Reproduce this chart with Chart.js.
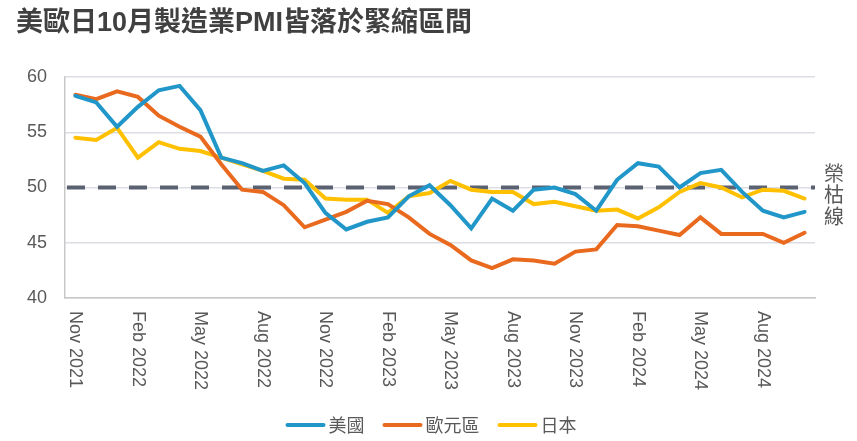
<!DOCTYPE html>
<html>
<head>
<meta charset="utf-8">
<script src="https://cdn.jsdelivr.net/npm/chart.js@4.4.1/dist/chart.umd.min.js"></script>
<style>
html, body { margin: 0; padding: 0; background: #fff; }
#wrap { width: 857px; height: 441px; }
</style>
</head>
<body>
<div id="wrap"><canvas id="pmiChart" width="857" height="441"></canvas></div>
<script>
const months = [
"Nov 2021", "Dec 2021", "Jan 2022", "Feb 2022", "Mar 2022", "Apr 2022", "May 2022", "Jun 2022", "Jul 2022",
"Aug 2022", "Sep 2022", "Oct 2022", "Nov 2022", "Dec 2022", "Jan 2023", "Feb 2023", "Mar 2023", "Apr 2023",
"May 2023", "Jun 2023", "Jul 2023", "Aug 2023", "Sep 2023", "Oct 2023", "Nov 2023", "Dec 2023", "Jan 2024",
"Feb 2024", "Mar 2024", "Apr 2024", "May 2024", "Jun 2024", "Jul 2024", "Aug 2024", "Sep 2024", "Oct 2024"
];
const usPmi = [58.3, 57.7, 55.5, 57.3, 58.8, 59.2, 57.0, 52.7, 52.2, 51.5, 52.0, 50.4, 47.7, 46.2, 46.9, 47.3, 49.2, 50.2,
48.4, 46.3, 49.0, 47.9, 49.8, 50.0, 49.4, 47.9, 50.7, 52.2, 51.9, 50.0, 51.3, 51.6, 49.6, 47.9, 47.3, 47.8];
const euPmi = [58.4, 58.0, 58.7, 58.2, 56.5, 55.5, 54.6, 52.1, 49.8, 49.6, 48.4, 46.4, 47.1, 47.8, 48.8, 48.5, 47.3, 45.8,
44.8, 43.4, 42.7, 43.5, 43.4, 43.1, 44.2, 44.4, 46.6, 46.5, 46.1, 45.7, 47.3, 45.8, 45.8, 45.8, 45.0, 45.9];
const jpPmi = [54.5, 54.3, 55.4, 52.7, 54.1, 53.5, 53.3, 52.7, 52.1, 51.5, 50.8, 50.7, 49.0, 48.9, 48.9, 47.7, 49.2, 49.5,
50.6, 49.8, 49.6, 49.6, 48.5, 48.7, 48.3, 47.9, 48.0, 47.2, 48.2, 49.6, 50.4, 50.0, 49.1, 49.8, 49.7, 49.0];
const seriesNames = ["美國", "歐元區", "日本"];
const seriesColors = ["#2196c8", "#e96a1e", "#ffc000"];
const boomLine = 50;
const boomLabel = "榮枯線";
const chartTitle = "美歐日10月製造業PMI皆落於緊縮區間";

const latin = "'Liberation Sans', Arial, 'Noto Sans CJK TC', sans-serif";
const cjk = "'Noto Sans CJK TC', 'Liberation Sans', sans-serif";
const grey = "#595959";

// dashed 50 line, vertical label, rotated month labels, legend and title
const extras = {
id: "extras",
beforeDatasetsDraw(chart) {
const { ctx, chartArea, scales: { y } } = chart;
const yy = y.getPixelForValue(boomLine);
ctx.save();
ctx.strokeStyle = "#5a6170";
ctx.lineWidth = 4;
ctx.setLineDash([18, 13]);
ctx.beginPath();
ctx.moveTo(chartArea.left + 2, yy);
ctx.lineTo(chartArea.right, yy);
ctx.stroke();
ctx.restore();
},
afterDraw(chart) {
const { ctx, scales: { x } } = chart;
ctx.save();
// vertical boom/bust label
ctx.fillStyle = grey;
ctx.font = "20px " + cjk;
ctx.textAlign = "center";
ctx.textBaseline = "middle";
[...boomLabel].forEach((ch, i) => ctx.fillText(ch, 834, 173 + i * 21.5));
// month labels, every third month, reading top to bottom
ctx.font = "18px " + latin;
ctx.textAlign = "left";
months.forEach((m, i) => {
if (i % 3 !== 0) return;
ctx.save();
ctx.translate(x.getPixelForValue(i), 311);
ctx.rotate(Math.PI / 2);
ctx.fillText(m, 0, 0);
ctx.restore();
});
// legend
ctx.font = "18px " + cjk;
const sw = 40, gapTxt = 3, gapItem = 18;
const widths = seriesNames.map(n => sw + gapTxt + ctx.measureText(n).width);
const total = widths.reduce((a, b) => a + b, 0) + gapItem * (seriesNames.length - 1);
let lx = 431 - total / 2;
const ly = 425;
seriesNames.forEach((n, i) => {
ctx.strokeStyle = seriesColors[i];
ctx.lineWidth = 4;
ctx.lineCap = "round";
ctx.beginPath();
ctx.moveTo(lx + 2, ly);
ctx.lineTo(lx + sw - 2, ly);
ctx.stroke();
ctx.fillStyle = grey;
ctx.textAlign = "left";
ctx.fillText(n, lx + sw + gapTxt, ly);
lx += widths[i] + gapItem;
});
// title
ctx.fillStyle = "#404040";
ctx.font = "bold 27px " + latin;
ctx.textBaseline = "middle";
ctx.fillText(chartTitle, 16, 24);
ctx.restore();
}
};

new Chart(document.getElementById("pmiChart").getContext("2d"), {
type: "line",
data: {
labels: months,
datasets: [usPmi, euPmi, jpPmi].map((d, i) => ({
label: seriesNames[i],
data: d,
borderColor: seriesColors[i],
backgroundColor: seriesColors[i],
borderWidth: 4,
pointRadius: 0,
tension: 0,
borderCapStyle: "round"
}))
},
options: {
responsive: false,
animation: false,
layout: { padding: { top: 77, right: 42, left: 0, bottom: 0 } },
plugins: { legend: { display: false }, tooltip: { enabled: false } },
scales: {
x: {
offset: true,
grid: { display: false, drawTicks: false },
border: { display: true, color: "#c8c8c8", width: 1.5 },
ticks: { display: false },
afterFit: (s) => { s.height = 143; }
},
y: {
min: 40,
max: 60,
grid: { color: "#dcdde3", lineWidth: 1.5, drawTicks: false },
border: { display: true, color: "#c8c8c8", width: 1.5 },
ticks: { stepSize: 5, padding: 18, color: grey, font: { size: 18, family: latin } },
afterFit: (s) => { s.width = 65; }
}
}
},
plugins: [extras]
});
</script>
</body>
</html>
